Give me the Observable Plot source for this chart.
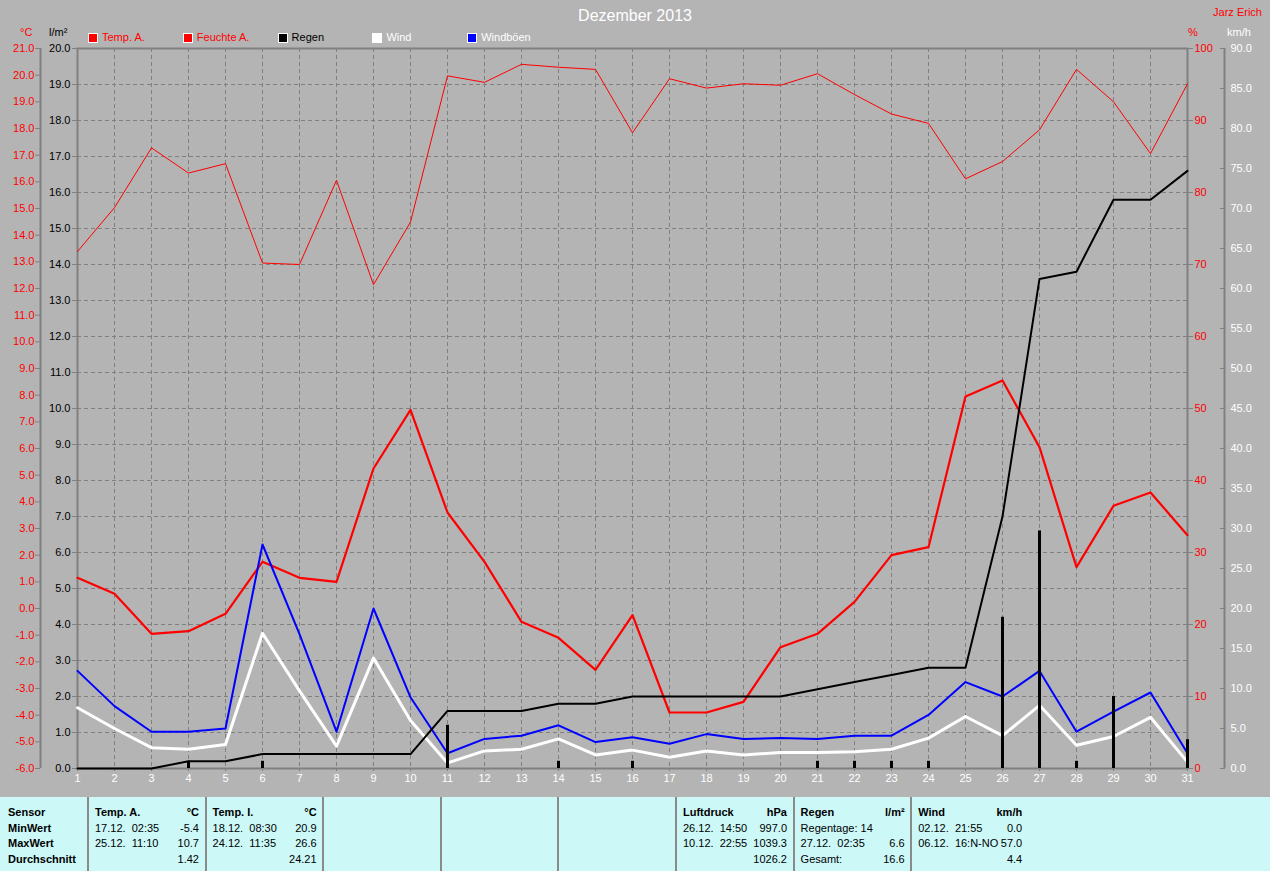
<!DOCTYPE html>
<html><head><meta charset="utf-8">
<script src="https://cdn.jsdelivr.net/npm/d3@7"></script>
<script src="https://cdn.jsdelivr.net/npm/@observablehq/plot@0.6"></script>
<style>
html,body{margin:0;padding:0;background:#b4b4b4;}
#wrap{position:relative;width:1270px;height:871px;overflow:hidden;font-family:"Liberation Sans",Arial,sans-serif;background:#b4b4b4;}
#head{position:relative;height:44px;}
.abs{position:absolute;white-space:pre;line-height:1;font-size:11px;}
#chart svg{overflow:visible;display:block;}
#table{position:absolute;left:0;top:797px;width:1270px;height:74px;background:#ccf8f8;}
.sep{position:absolute;top:0;width:2px;height:74px;background:#8a8a8a;}
.sq{position:absolute;width:8px;height:8px;border:1px solid #fff;}
</style></head>
<body>
<div id="wrap">
  <div id="head"></div>
  <div id="chart"></div>
  <div id="table"></div>
</div>
<script>
// ---------- data ----------
const days = [1,2,3,4,5,6,7,8,9,10,11,12,13,14,15,16,17,18,19,20,21,22,23,24,25,26,27,28,29,30,31];
const tempA = [1.15,0.55,-0.95,-0.85,-0.2,1.75,1.15,1.0,5.25,7.45,3.6,1.75,-0.5,-1.1,-2.3,-0.25,-3.9,-3.9,-3.5,-1.45,-0.95,0.25,2.0,2.3,7.95,8.55,6.05,1.55,3.85,4.35,2.75];
const humidity = [71.8,77.9,86.2,82.7,84.0,70.2,70.0,81.7,67.2,75.9,96.2,95.3,97.8,97.4,97.1,88.3,95.8,94.5,95.1,94.9,96.5,93.6,90.9,89.6,81.9,84.3,88.7,97.1,92.6,85.4,95.1];
const rainDaily = [0,0,0,0.2,0,0.2,0,0,0,0,1.2,0,0,0.2,0,0.2,0,0,0,0,0.2,0.2,0.2,0.2,0,4.2,6.6,0.2,2.0,0,0.8];
const rainTotal = [0,0,0,0.2,0.2,0.4,0.4,0.4,0.4,0.4,1.6,1.6,1.6,1.8,1.8,2.0,2.0,2.0,2.0,2.0,2.2,2.4,2.6,2.8,2.8,7.0,13.6,13.8,15.8,15.8,16.6];
const wind = [7.6,5.0,2.6,2.4,3.0,16.9,9.7,2.8,13.8,6.0,0.7,2.2,2.4,3.7,1.7,2.3,1.4,2.2,1.7,2.0,2.0,2.1,2.4,3.8,6.5,4.1,7.9,2.9,4.0,6.4,0.8];
const gusts = [12.2,7.8,4.6,4.6,5.0,28.0,16.8,4.6,20.0,8.9,1.9,3.7,4.1,5.4,3.3,3.9,3.1,4.3,3.7,3.8,3.7,4.1,4.1,6.7,10.8,9.0,12.2,4.6,7.1,9.5,1.9];

const lmTicks = [0,1,2,3,4,5,6,7,8,9,10,11,12,13,14,15,16,17,18,19,20];
const tempTicks = [-6,-5,-4,-3,-2,-1,0,1,2,3,4,5,6,7,8,9,10,11,12,13,14,15,16,17,18,19,20,21];
const humTicks = [0,10,20,30,40,50,60,70,80,90,100];
const kmhTicks = [0,5,10,15,20,25,30,35,40,45,50,55,60,65,70,75,80,85,90];

const title = "Dezember 2013";
const author = "Jarz Erich";
const legendNames = ["Temp. A.","Feuchte A.","Regen","Wind","Windböen"];
const legendFill = ["#ff0000","#ff0000","#000000","#ffffff","#0000ff"];
const legendText = ["#ff0000","#ff0000","#000000","#ffffff","#ffffff"];

// table text
const rowLabels = ["Sensor","MinWert","MaxWert","Durchschnitt"];
const tableCols = [
  {col:1, left:["Temp. A.","17.12.  02:35","25.12.  11:10",""], right:["°C","-5.4","10.7","1.42"]},
  {col:2, left:["Temp. I.","18.12.  08:30","24.12.  11:35",""], right:["°C","20.9","26.6","24.21"]},
  {col:6, left:["Luftdruck","26.12.  14:50","10.12.  22:55",""], right:["hPa","997.0","1039.3","1026.2"]},
  {col:7, left:["Regen","Regentage: 14","27.12.  02:35","Gesamt:"], right:["l/m²","","6.6","16.6"]},
  {col:8, left:["Wind","02.12.  21:55","06.12.  16:N-NO",""], right:["km/h","0.0","57.0","4.4"]}
];

// ---------- conversions onto the shared l/m² y scale ----------
const yTemp = t => (t + 6) * 20 / 27;
const yHum = h => h / 5;
const yKmh = w => w * 20 / 90;
const fmt1 = v => (Math.round(v * 10) / 10).toFixed(1);

const rows = days.map((d, i) => ({day: d, temp: tempA[i], hum: humidity[i], rain: rainDaily[i], total: rainTotal[i], wind: wind[i], gust: gusts[i]}));

// ---------- header ----------
const head = document.getElementById("head");
function addText(parent, txt, css) {
  const s = document.createElement("div");
  s.className = "abs";
  s.textContent = txt;
  Object.assign(s.style, css);
  parent.appendChild(s);
  return s;
}
addText(head, title, {left: "0px", width: "1270px", textAlign: "center", top: "8px", fontSize: "16px", color: "#ffffff"});
addText(head, author, {right: "8px", top: "7px", color: "#ff0000"});
addText(head, "°C", {left: "20px", top: "27px", color: "#ff0000"});
addText(head, "l/m²", {left: "49px", top: "27px", color: "#000000"});
addText(head, "%", {left: "1188px", top: "27px", color: "#ff0000"});
addText(head, "km/h", {left: "1227px", top: "27px", color: "#ffffff"});
legendNames.forEach((n, i) => {
  const x = 88 + i * 94.8;
  const sq = document.createElement("div");
  sq.className = "sq";
  sq.style.left = x + "px";
  sq.style.top = "33px";
  sq.style.background = legendFill[i];
  head.appendChild(sq);
  addText(head, n, {left: (x + 14) + "px", top: "32px", color: legendText[i]});
});

// ---------- chart ----------
const grid = "#808080";
const chart = Plot.plot({
  width: 1270, height: 751,
  marginTop: 4, marginBottom: 27, marginLeft: 77, marginRight: 83,
  style: {background: "transparent", fontFamily: "Liberation Sans, Arial, sans-serif", fontSize: "11px", overflow: "visible"},
  x: {domain: [1, 31], axis: null, label: null},
  y: {domain: [0, 20], axis: null, label: null},
  marks: [
    Plot.ruleY(lmTicks.slice(1, -1), {stroke: grid, strokeDasharray: "4,3", strokeWidth: 1}),
    Plot.ruleX(days.slice(1, -1), {stroke: grid, strokeDasharray: "4,3", strokeWidth: 1}),
    Plot.frame({stroke: grid, strokeWidth: 2}),
    Plot.ruleX([0], {y1: 0, y2: 20, stroke: grid, strokeWidth: 2}),
    Plot.ruleX([32], {y1: 0, y2: 20, stroke: grid, strokeWidth: 2}),
    Plot.axisY(lmTicks, {anchor: "left", label: null, tickSize: 5, tickPadding: 2, tickFormat: d => d.toFixed(1), fill: "#000000", stroke: grid}),
    Plot.axisY(tempTicks.map(yTemp), {anchor: "left", label: null, dx: -37, tickSize: 5, tickPadding: 1, tickFormat: v => fmt1(v * 27 / 20 - 6), fill: "#ff0000", stroke: grid}),
    Plot.axisY(humTicks.map(yHum), {anchor: "right", label: null, tickSize: 5, tickPadding: 2, tickFormat: v => String(Math.round(v * 5)), fill: "#ff0000", stroke: grid}),
    Plot.axisY(kmhTicks.map(yKmh), {anchor: "right", label: null, dx: 32, tickSize: 5, tickPadding: 6, tickFormat: v => fmt1(v * 4.5), fill: "#ffffff", stroke: grid}),
    Plot.axisX(days, {anchor: "bottom", label: null, tickSize: 3, tickPadding: 3, tickFormat: d => String(d), fill: "#ffffff", stroke: grid}),
    Plot.line(rows, {x: "day", y: d => yHum(d.hum), stroke: "#ff0000", strokeWidth: 1}),
    Plot.line(rows, {x: "day", y: d => yTemp(d.temp), stroke: "#ff0000", strokeWidth: 2.2}),
    Plot.line(rows, {x: "day", y: d => yKmh(d.wind), stroke: "#ffffff", strokeWidth: 3}),
    Plot.line(rows, {x: "day", y: d => yKmh(d.gust), stroke: "#0000ff", strokeWidth: 2}),
    Plot.line(rows, {x: "day", y: "total", stroke: "#000000", strokeWidth: 2}),
    Plot.ruleX(rows.filter(d => d.rain > 0), {x: "day", y1: 0, y2: "rain", stroke: "#000000", strokeWidth: 3})
  ]
});
document.getElementById("chart").appendChild(chart);

// ---------- table ----------
const table = document.getElementById("table");
const colStart = c => 88 + (c - 1) * 117.6;
for (let c = 1; c <= 8; c++) {
  const s = document.createElement("div");
  s.className = "sep";
  s.style.left = (colStart(c) - 1) + "px";
  table.appendChild(s);
}
const rowTop = r => 10 + r * 15.6;
rowLabels.forEach((t, r) => addText(table, t, {left: "8px", top: rowTop(r) + "px", fontWeight: "bold", color: "#000"}));
tableCols.forEach(col => {
  const x0 = colStart(col.col);
  col.left.forEach((t, r) => { if (t) addText(table, t, {left: (x0 + 7) + "px", top: rowTop(r) + "px", fontWeight: r === 0 ? "bold" : "normal", color: "#000"}); });
  col.right.forEach((t, r) => { if (t) addText(table, t, {left: (x0 + 11) + "px", width: "100px", textAlign: "right", top: rowTop(r) + "px", fontWeight: r === 0 ? "bold" : "normal", color: "#000"}); });
});
</script>
</body></html>
